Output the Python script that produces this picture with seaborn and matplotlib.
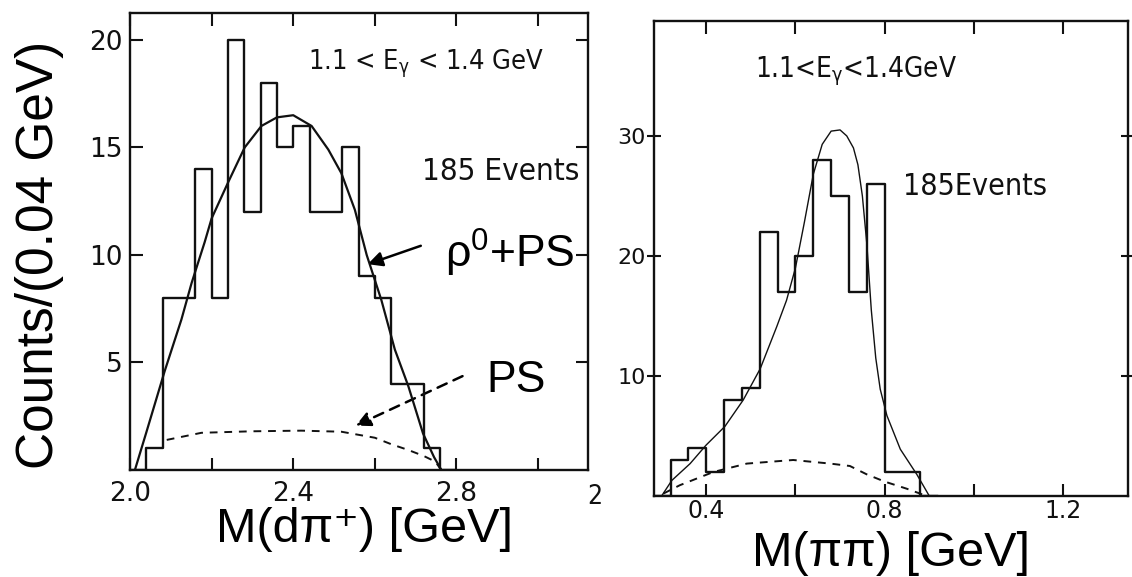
import numpy as np
import pandas as pd
import matplotlib
matplotlib.use("Agg")
import matplotlib.pyplot as plt
import seaborn as sns
from matplotlib import font_manager as fm
from matplotlib.patches import FancyArrowPatch

# ---------------- data ----------------
# left panel: M(d pi+) histogram, 0.04 GeV bins
left_edges = [2.00, 2.04, 2.08, 2.12, 2.16, 2.20, 2.24, 2.28, 2.32, 2.36, 2.40,
              2.44, 2.48, 2.52, 2.56, 2.60, 2.64, 2.68, 2.72, 2.76, 2.80]
left_counts = [0, 1, 8, 8, 14, 8, 20, 12, 18, 15, 16, 12, 12, 15, 9, 8, 4, 4, 1, 0]

# rho0 + PS fit curve (left)
left_fit_x = [2.012, 2.04, 2.085, 2.126, 2.151, 2.183, 2.20, 2.241, 2.281, 2.322,
              2.36, 2.40, 2.445, 2.486, 2.518, 2.551, 2.58, 2.616, 2.649, 2.682,
              2.718, 2.745, 2.763]
left_fit_y = [0.0, 1.75, 4.6, 7.0, 8.7, 10.6, 11.7, 13.4, 15.0, 16.0,
              16.4, 16.5, 16.0, 14.9, 13.8, 12.1, 10.0, 7.9, 5.6, 3.9,
              1.7, 0.6, 0.0]
# phase space (PS) curve (left)
left_ps_x = [2.09, 2.175, 2.298, 2.42, 2.518, 2.60, 2.64, 2.682, 2.72, 2.748, 2.763]
left_ps_y = [1.4, 1.73, 1.80, 1.83, 1.78, 1.5, 1.2, 0.93, 0.65, 0.39, 0.0]

# right panel: M(pi pi) histogram, 0.04 GeV bins
right_edges = [0.28, 0.32, 0.36, 0.40, 0.44, 0.48, 0.52, 0.56, 0.60, 0.64,
               0.68, 0.72, 0.76, 0.80, 0.84, 0.88, 0.92]
right_counts = [0, 3, 4, 2, 8, 9, 22, 17, 20, 28, 25, 17, 26, 2, 2, 0]

right_fit_x = [0.30, 0.323, 0.364, 0.40, 0.442, 0.483, 0.521, 0.558, 0.58, 0.60,
               0.62, 0.64, 0.66, 0.68, 0.70, 0.715, 0.73, 0.74, 0.75, 0.76,
               0.77, 0.78, 0.79, 0.805, 0.835, 0.872, 0.90]
right_fit_y = [0.0, 1.3, 2.7, 4.25, 5.8, 8.0, 10.6, 14.1, 16.3, 19.0,
               22.8, 26.8, 29.3, 30.4, 30.5, 30.0, 29.0, 27.6, 25.0, 21.0,
               15.5, 11.5, 8.9, 6.7, 3.9, 1.8, 0.0]

right_ps_x = [0.304, 0.341, 0.416, 0.491, 0.595, 0.678, 0.722, 0.76, 0.80, 0.85, 0.894]
right_ps_y = [0.2, 0.9, 2.0, 2.7, 3.0, 2.7, 2.5, 1.8, 1.2, 0.6, 0.0]

left_xticks = [2.0, 2.4, 2.8]
left_xticklabels = ["2.0", "2.4", "2.8"]
left_xminor = [2.2, 2.6, 3.0]
left_yticks = [5, 10, 15, 20]
right_xticks = [0.4, 0.8, 1.2]
right_xticklabels = ["0.4", "0.8", "1.2"]
right_xminor = [0.6, 1.0]
right_yticks = [10, 20, 30]

# ---------------- style ----------------
sns.set_theme(style="ticks")
plt.rcParams["font.family"] = ["DejaVu Sans"]
plt.rcParams["mathtext.fontset"] = "custom"
plt.rcParams["mathtext.rm"] = "DejaVu Sans"
plt.rcParams["mathtext.it"] = "DejaVu Sans:italic"

names = {f.name for f in fm.fontManager.ttflist}
stretched = {(f.name, str(f.stretch)) for f in fm.fontManager.ttflist}
if "Liberation Sans Narrow" in names:
    scan = dict(family=["Liberation Sans Narrow", "DejaVu Sans"])
elif ("DejaVu Sans", "condensed") in stretched or ("DejaVu Sans", "semi-condensed") in stretched:
    scan = dict(family=["DejaVu Sans"], fontstretch="condensed")
else:
    scan = dict(family=["DejaVu Sans"])
arial = ["Liberation Sans", "DejaVu Sans"]

W, H = 1132, 577
fig = plt.figure(figsize=(W / 100, H / 100), dpi=100)
fig.patch.set_facecolor("white")

def box(x0, x1, ytop, ybot):
    return [x0 / W, 1 - ybot / H, (x1 - x0) / W, (ybot - ytop) / H]

ax1 = fig.add_axes(box(130, 588.3, 13.3, 470))
ax2 = fig.add_axes(box(654, 1128.3, 20.7, 496))

ink = "#111111"

# ---------------- left panel ----------------
lc = [(a + b) / 2 for a, b in zip(left_edges[:-1], left_edges[1:])]
sns.histplot(x=lc, weights=left_counts, bins=left_edges, element="step",
             fill=False, color=ink, linewidth=1.7, ax=ax1)
sns.lineplot(x=left_fit_x, y=left_fit_y, sort=False, estimator=None,
             color=ink, linewidth=1.6, ax=ax1)
sns.lineplot(x=left_ps_x, y=left_ps_y, sort=False, estimator=None,
             color=ink, linewidth=1.4, linestyle=(0, (4, 3.5)), ax=ax1)
ax1.set_xlim(2.0, 3.123)
ax1.set_ylim(0, 21.24)
ax1.set_xticks(left_xticks)
ax1.set_xticklabels(left_xticklabels)
ax1.set_xticks(left_xminor, minor=True)
ax1.set_yticks(left_yticks)
ax1.set_yticklabels([str(v) for v in left_yticks])
ax1.tick_params(which="both", direction="in", top=True, right=True,
                length=9, width=1.5, color=ink)
ax1.tick_params(axis="x", which="major", labelsize=19, pad=8, labelcolor=ink)
ax1.tick_params(axis="y", which="major", labelsize=19, pad=5, labelcolor=ink)
ax1.set_xlabel("")
ax1.set_ylabel("")
for s in ax1.spines.values():
    s.set_linewidth(1.7)
    s.set_color(ink)

ax1.text(2.436, 18.9, r"1.1 < E$_{\mathregular{γ}}$ < 1.4 GeV", ha="left", va="center",
         fontsize=19.5, color=ink, **scan)
ax1.text(2.715, 13.9, "185 Events", ha="left", va="center",
         fontsize=22.5, color=ink, **scan)
ax1.text(2.772, 9.4, r"ρ$^{\mathregular{0}}$+PS", ha="left", va="baseline",
         fontsize=32, color="black", family=arial)
ax1.text(2.874, 3.64, "PS", ha="left", va="baseline",
         fontsize=32, color="black", family=arial)
ax1.add_patch(FancyArrowPatch((2.719, 10.47), (2.576, 9.53), arrowstyle="-|>",
                              mutation_scale=22, lw=1.8, color="black"))
ax1.add_patch(FancyArrowPatch((2.821, 4.42), (2.547, 2.01), arrowstyle="-|>",
                              mutation_scale=22, lw=1.8, color="black",
                              linestyle=(0, (4, 3))))
fig.text(587 / W, 1 - 497 / H, "2", ha="left", va="center", fontsize=19,
         color=ink, **scan)

# ---------------- right panel ----------------
rc = [(a + b) / 2 for a, b in zip(right_edges[:-1], right_edges[1:])]
sns.histplot(x=rc, weights=right_counts, bins=right_edges, element="step",
             fill=False, color=ink, linewidth=1.7, ax=ax2)
sns.lineplot(x=right_fit_x, y=right_fit_y, sort=False, estimator=None,
             color=ink, linewidth=1.0, ax=ax2)
sns.lineplot(x=right_ps_x, y=right_ps_y, sort=False, estimator=None,
             color=ink, linewidth=1.4, linestyle=(0, (4, 3.5)), ax=ax2)
ax2.set_xlim(0.283, 1.346)
ax2.set_ylim(0, 39.6)
ax2.set_xticks(right_xticks)
ax2.set_xticklabels(right_xticklabels)
ax2.set_xticks(right_xminor, minor=True)
ax2.set_yticks(right_yticks)
ax2.set_yticklabels([str(v) for v in right_yticks])
ax2.tick_params(which="both", direction="in", top=True, right=True,
                length=9, width=1.5, color=ink)
ax2.tick_params(axis="y", which="both", direction="inout", length=10)
ax2.tick_params(axis="x", which="major", labelsize=17, pad=2, labelcolor=ink)
ax2.tick_params(axis="y", which="major", labelsize=16, pad=1, labelcolor=ink)
ax2.set_xlabel("")
ax2.set_ylabel("")
for s in ax2.spines.values():
    s.set_linewidth(1.7)
    s.set_color(ink)

ax2.text(0.509, 35.4, r"1.1<E$_{\mathregular{γ}}$<1.4GeV", ha="left", va="center",
         fontsize=20, color=ink, **scan)
ax2.text(0.841, 25.75, "185Events", ha="left", va="center",
         fontsize=21.8, color=ink, **scan)

# ---------------- axis titles ----------------
fig.text(40 / W, 1 - 255 / H, "Counts/(0.04 GeV)", rotation=90, ha="center",
         va="center", fontsize=37, color="black", family=arial)
fig.text(365 / W, 1 - 530 / H, "M(dπ⁺) [GeV]", ha="center", va="center",
         fontsize=35, color="black", family=arial)
fig.text(891 / W, 1 - 553 / H, "M(ππ) [GeV]", ha="center", va="center",
         fontsize=35, color="black", family=arial)

fig.savefig("out.png", dpi=100, facecolor="white")
